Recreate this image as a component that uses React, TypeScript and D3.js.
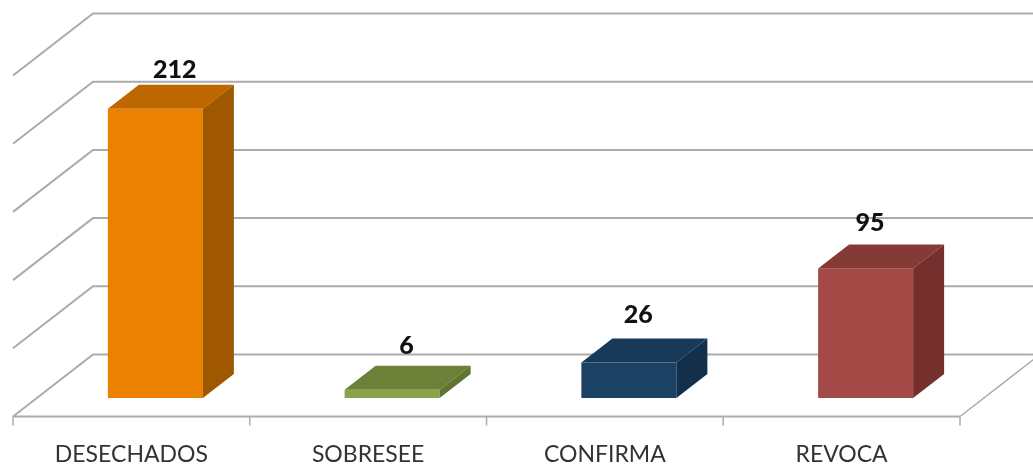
import React from "react";
import * as d3 from "d3";

const categories = ["DESECHADOS", "SOBRESEE", "CONFIRMA", "REVOCA"];
const values = [212, 6, 26, 95];
const gridTicks = [0, 50, 100, 150, 200, 250];
const frontColors = ["#ec8000", "#8aa349", "#1b4263", "#a44a46"];
const topColors = ["#bd6700", "#6c8137", "#173a5a", "#853a36"];
const sideColors = ["#a05800", "#5f7530", "#122f4b", "#752f2c"];

const W = 1033, H = 465;
const left = 13, right = 960, floorFront = 416.5;
const depthX = 80, depthY = 62;
const barDX = 31, barDY = 24, barW = 95, barBase = 398;
const labelGap = [7, 12, 16, 13];

const x = d3.scaleBand<string>().domain(categories).range([left, right]);
// Value scale measured along the back wall
const y = d3.scaleLinear().domain([0, 250]).range([354.5, 13.5]);
const h = (v: number) => y(0) - y(v);
const labelOffset = d3.scaleLinear().domain([0, 3]).range([67, 52]);
const poly = d3.line();
const font = "Lato, Carlito, 'Open Sans', sans-serif";

export default function App() {
  const grid = "#ababab";
  return (
    <svg width={W} height={H} style={{ position: "absolute", left: 0, top: 0, background: "#fff", filter: "blur(0.6px)" }}>
      {gridTicks.map((t) => (
        <path
          key={t}
          fill="none"
          stroke={grid}
          strokeWidth={2}
          d={poly([[left, y(t) + depthY], [left + depthX, y(t)], [W, y(t)]]) || ""}
        />
      ))}
      <path fill="none" stroke={grid} strokeWidth={1.5} d={poly([[right, floorFront], [right + depthX, y(0)]]) || ""} />
      <line x1={left} x2={right} y1={floorFront} y2={floorFront} stroke={grid} strokeWidth={2} />
      {categories.map((c) => (
        <line key={c} x1={x(c)!} x2={x(c)!} y1={floorFront} y2={floorFront + 9} stroke={grid} strokeWidth={1.5} />
      ))}
      <line x1={right} x2={right} y1={floorFront} y2={floorFront + 9} stroke={grid} strokeWidth={1.5} />
      {categories.map((c, i) => {
        const cx = x(c)! + x.bandwidth() / 2;
        const x0 = cx + 24 - barW / 2;
        const x1 = x0 + barW;
        const top = barBase - h(values[i]);
        return (
          <g key={c}>
            <rect x={x0} y={top} width={barW} height={barBase - top} fill={frontColors[i]} />
            <path fill={topColors[i]} d={(poly([[x0, top], [x0 + barDX, top - barDY], [x1 + barDX, top - barDY], [x1, top]]) || "") + "Z"} />
            <path fill={sideColors[i]} d={(poly([[x1, top], [x1 + barDX, top - barDY], [x1 + barDX, barBase - barDY], [x1, barBase]]) || "") + "Z"} />
            <text x={x0 + labelOffset(i)} y={top - barDY - labelGap[i]} textAnchor="middle" fontFamily={font} fontWeight={900} fontSize={25} fill="#111">
              {values[i]}
            </text>
            <text x={cx} y={461.5} textAnchor="middle" fontFamily={font} fontSize={23} fill="#333">
              {c}
            </text>
          </g>
        );
      })}
    </svg>
  );
}
